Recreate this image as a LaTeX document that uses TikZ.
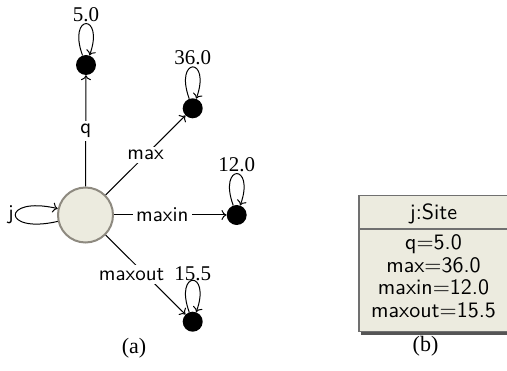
\documentclass[tikz,border=0pt]{standalone}
\usepackage{fontspec}
\setmainfont{Liberation Serif}
\setsansfont{lmsans10-regular.otf}
\usetikzlibrary{arrows.meta,positioning,shadows}
\definecolor{cSite}{HTML}{ECEBDF}
\definecolor{cRim}{HTML}{8E8A80}
\definecolor{cFrame}{HTML}{707070}
\definecolor{cShade}{HTML}{555555}
\tikzset{
  site/.style    = {circle, draw=cRim, fill=cSite, line width=2pt, minimum size=55pt, inner sep=0pt},
  dot/.style     = {circle, fill=black, minimum size=20pt, inner sep=0pt},
  val/.style     = {font=\fontsize{21}{21}\selectfont, inner sep=0pt},
  link/.style    = {-{To[length=5pt,width=10pt]}, line width=1pt},
  elab/.style    = {font=\sffamily\fontsize{21}{21}\selectfont, fill=white},
  captext/.style = {font=\fontsize{22}{22}\selectfont, inner sep=0pt},
  obj/.style     = {rectangle, draw=cFrame, fill=cSite, line width=1.2pt, inner sep=0pt,
                    drop shadow={shadow xshift=2.5pt, shadow yshift=-3pt, fill=cShade, opacity=1}},
  otext/.style   = {font=\sffamily\fontsize{22}{22.4}\selectfont, align=center, inner sep=0pt},
}

\begin{document}
\begin{tikzpicture}[x=1pt, y=1pt]
  \useasboundingbox (0,0) rectangle (507,-371);

  % (a) the site and its attribute values
  \node[site] (site) at (85.5,-215) {};
  \node[dot] (nq)      at ( 86.0,-65.0) {};
  \node[dot] (nmax)    at (192.7,-108.3) {};
  \node[dot] (nmaxin)  at (236.7,-215.0) {};
  \node[dot] (nmaxout) at (192.7,-321.7) {};

  \node[val, above=33pt of nq]      (vq)      {5.0};
  \node[val, above=33pt of nmax]    (vmax)    {36.0};
  \node[val, above=33pt of nmaxin]  (vmaxin)  {12.0};
  \node[val, above=30pt of nmaxout] (vmaxout) {15.5};

  \draw[link] (site) -- node[elab]{q} (nq);
  \draw[link] (site) -- node[elab]{max} (nmax);
  \draw[link] (site) -- node[elab, pos=0.43]{maxin} (nmaxin);
  \draw[link] (site) -- node[elab, xshift=-14pt]{maxout} (nmaxout);
  \draw[link] (site) to[out=193, in=167, distance=58pt] node[elab, left, fill=none, inner sep=1pt]{j} (site);

  \foreach \d in {nq,nmax,nmaxin,nmaxout}
    \draw[link] (\d) to[out=110, in=70, distance=45pt] (\d);

  \node[captext] (capa) at (134,-348) {(a)};

  % (b) the same object as a UML box
  \node[obj, minimum width=150.4pt, minimum height=136pt, anchor=north west] (obj) at (358.3,-195) {};
  \coordinate (osep) at (0,-229.5);
  \draw[draw=cFrame, line width=2pt] (obj.west |- osep) -- (obj.east |- osep);
  \node[otext] (ohead) at (433.5,-213.8) {j:Site};
  \node[otext] (oattr) at (433.5,-276.2) {q=5.0\\max=36.0\\maxin=12.0\\maxout=15.5};

  \node[captext] (capb) at (425.5,-346.5) {(b)};
\end{tikzpicture}
\end{document}
